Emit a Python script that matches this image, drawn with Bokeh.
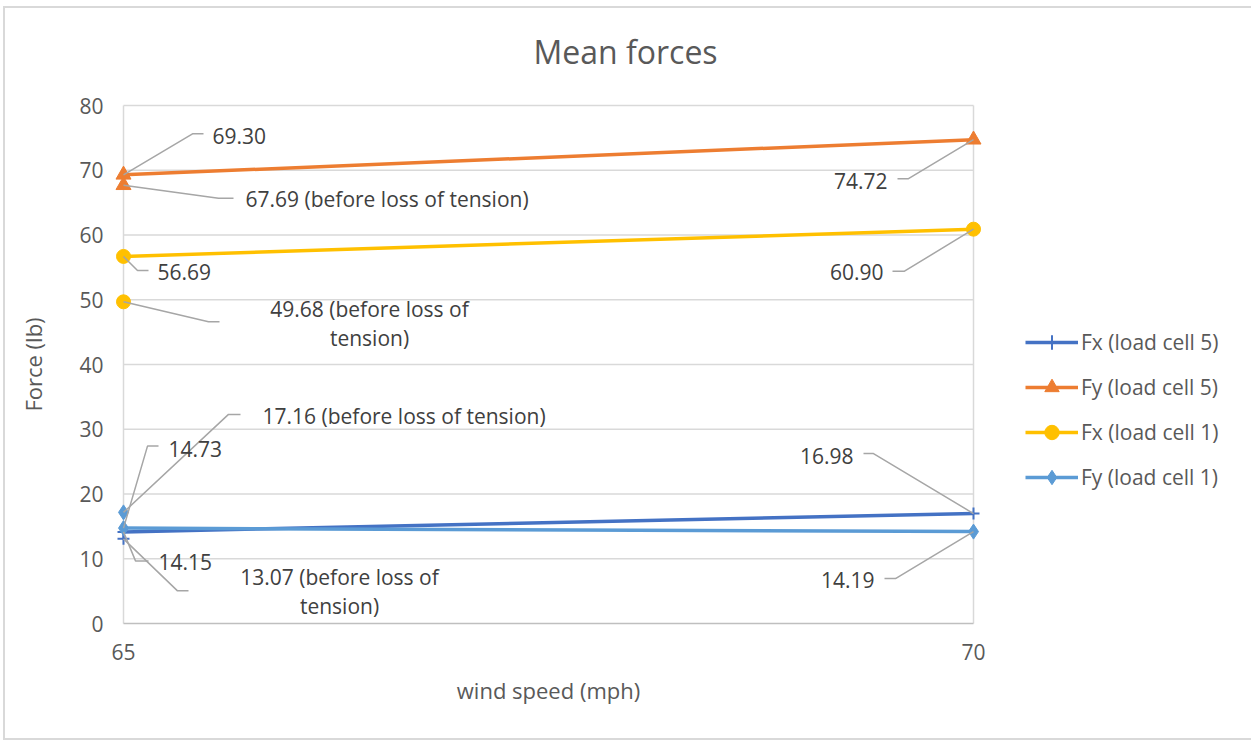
from bokeh.plotting import figure
from bokeh.models import Range1d, FixedTicker, Label, Legend, LegendItem
from bokeh.embed import file_html
from bokeh.resources import INLINE

# ---------------- data ----------------
wind_speed = [65, 70]
series_names = ["Fx (load cell 5)", "Fy (load cell 5)", "Fx (load cell 1)", "Fy (load cell 1)"]
fx_cell5 = [14.15, 16.98]
fy_cell5 = [69.30, 74.72]
fx_cell1 = [56.69, 60.90]
fy_cell1 = [14.73, 14.19]
before_loss_speed = 65
before_loss_values = [13.07, 67.69, 49.68, 17.16]   # same order as series_names
before_loss_note = "(before loss of tension)"
x_ticks = [65, 70]
y_ticks = [0, 10, 20, 30, 40, 50, 60, 70, 80]
title_text = "Mean forces"
x_title = "wind speed (mph)"
y_title = "Force (lb)"

series_values = [fx_cell5, fy_cell5, fx_cell1, fy_cell1]

# ---------------- styles ----------------
FONT = "Open Sans"
colors = ["#4472C4", "#ED7D31", "#FFC000", "#5B9BD5"]
markers = ["cross", "triangle", "circle", "diamond"]
marker_sizes = [12, 15, 14, 15]
TXT = "#595959"
LBL = "#404040"
GRID = "#d9d9d9"
LEADER = "#a6a6a6"

FRAME_W, FRAME_H = 880, 538
PAD_X, PAD_Y = 15, 10
span_x = x_ticks[-1] - x_ticks[0]
span_y = y_ticks[-1] - y_ticks[0]
PX_X = (FRAME_W - 2 * PAD_X) / span_x
PX_Y = (FRAME_H - 2 * PAD_Y) / span_y

p = figure(
    frame_width=FRAME_W, frame_height=FRAME_H,
    min_border_left=103, min_border_right=258, min_border_top=87, min_border_bottom=105,
    x_range=Range1d(x_ticks[0] - PAD_X / PX_X, x_ticks[-1] + PAD_X / PX_X),
    y_range=Range1d(y_ticks[0] - PAD_Y / PX_Y, y_ticks[-1] + PAD_Y / PX_Y),
    output_backend="svg", toolbar_location=None,
)
p.styles = {"border": "2px solid #d9d9d9", "margin": "6px 0px 0px 3px"}
p.outline_line_color = None
p.background_fill_color = "white"
p.border_fill_color = "white"
p.xgrid.visible = False
p.ygrid.visible = False

# title
p.title.text = title_text
p.title.align = "left"
p.title.vertical_align = "top"
p.title.offset = 425
p.title.standoff = 42
p.title.text_font = FONT
p.title.text_font_size = "32px"
p.title.text_font_style = "normal"
p.title.text_color = TXT

# axes
for ax in (p.xaxis[0], p.yaxis[0]):
    ax.axis_line_color = None
    ax.major_tick_line_color = None
    ax.minor_tick_line_color = None
    ax.major_tick_out = 0
    ax.major_tick_in = 0
    ax.minor_tick_out = 0
    ax.minor_tick_in = 0
    ax.major_label_text_font = FONT
    ax.major_label_text_font_size = "21px"
    ax.major_label_text_color = TXT
    ax.axis_label_text_font = FONT
    ax.axis_label_text_font_size = "22px"
    ax.axis_label_text_font_style = "normal"
    ax.axis_label_text_color = TXT
p.xaxis.ticker = FixedTicker(ticks=x_ticks)
p.yaxis.ticker = FixedTicker(ticks=y_ticks)
p.xaxis.axis_label = x_title
p.yaxis.axis_label = y_title
p.xaxis.major_label_standoff = 10
p.xaxis.axis_label_standoff = 12
p.yaxis.major_label_standoff = 5
p.yaxis.axis_label_standoff = 28

# plot-area grid and box
p.segment(x0=[x_ticks[0]] * (len(y_ticks) - 1), x1=[x_ticks[-1]] * (len(y_ticks) - 1),
          y0=y_ticks[1:], y1=y_ticks[1:], line_color=GRID, line_width=1.5)
p.segment(x0=x_ticks, x1=x_ticks, y0=[y_ticks[0]] * 2, y1=[y_ticks[-1]] * 2,
          line_color=GRID, line_width=1.5)
p.segment(x0=[x_ticks[0]], x1=[x_ticks[-1]], y0=[y_ticks[0]], y1=[y_ticks[0]],
          line_color="#bfbfbf", line_width=1.5)

# series
items = []
for i, vals in enumerate(series_values):
    ln = p.line(wind_speed, vals, line_color=colors[i], line_width=3.5)
    kw = dict(marker=markers[i], size=marker_sizes[i], line_color=colors[i])
    if markers[i] == "cross":
        kw.update(line_width=2, fill_color=None)
    else:
        kw.update(fill_color=colors[i], line_width=1)
    sc = p.scatter(wind_speed, vals, **kw)
    p.scatter([before_loss_speed], [before_loss_values[i]], **kw)
    items.append(LegendItem(label=series_names[i], renderers=[ln, sc]))

legend = Legend(items=items, location=(37, 138), orientation="vertical",
                glyph_width=53, glyph_height=36, label_height=36, spacing=9,
                padding=0, margin=0, label_standoff=3,
                label_text_font=FONT, label_text_font_size="21px", label_text_color=TXT,
                border_line_color=None, background_fill_alpha=0)
p.add_layout(legend, "right")

# data labels: (series, point, elbow dx,dy, end dx,dy, text dx,dy, align, wrap)
# point: 0 / 1 = index into wind_speed, "b" = before loss of tension
label_layout = [
    (1, 0, (69, -41), (80, -41), (89, -39), "left", False),
    (1, "b", (95, 13), (110, 13), (122, 14), "left", False),
    (2, 0, (14, 14), (25, 14), (34, 16), "left", False),
    (2, "b", (85, 20), (96, 20), (246, 7), "center", True),
    (3, "b", (105, -98), (117, -98), (139, -96), "left", False),
    (3, 0, (24, -82), (35, -82), (45, -79), "left", False),
    (0, 0, (12, 29), (25, 29), (35, 30), "left", False),
    (0, "b", (54, 52), (65, 52), (216, 38), "center", True),
    (1, 1, (-65, 39), (-76, 39), (-86, 41), "right", False),
    (2, 1, (-69, 42), (-81, 42), (-90, 43), "right", False),
    (0, 1, (-100, -60), (-110, -60), (-120, -58), "right", False),
    (3, 1, (-78, 47), (-89, 47), (-99, 48), "right", False),
]
LINE_GAP = 29
xs_all, ys_all = [], []
for s, pt, elb, end, tpos, align, wrap in label_layout:
    if pt == "b":
        x, y = before_loss_speed, before_loss_values[s]
        text = f"{y:.2f} {before_loss_note}"
    else:
        x, y = wind_speed[pt], series_values[s][pt]
        text = f"{y:.2f}"
    xs_all.append([x, x + elb[0] / PX_X, x + end[0] / PX_X])
    ys_all.append([y, y - elb[1] / PX_Y, y - end[1] / PX_Y])
    lines = [text]
    if wrap:
        head, tail = text.rsplit(" ", 1)
        lines = [head, tail]
    for k, t in enumerate(lines):
        p.add_layout(Label(x=x, y=y, x_offset=tpos[0], y_offset=-(tpos[1] + k * LINE_GAP),
                           text=t, text_align=align, text_baseline="middle",
                           text_font=FONT, text_font_size="21px", text_color=LBL))
p.multi_line(xs_all, ys_all, line_color=LEADER, line_width=1.5)

open("out.html", "w").write(file_html(p, INLINE))
